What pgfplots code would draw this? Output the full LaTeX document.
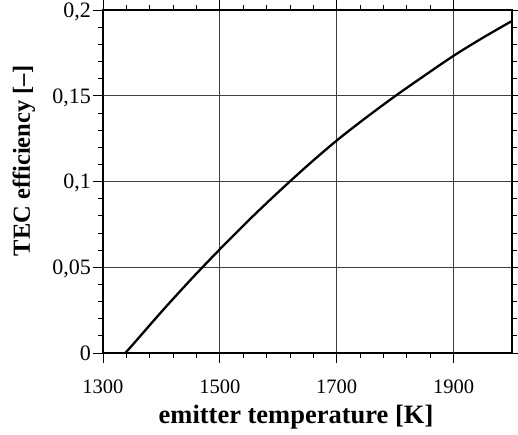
\documentclass[border=0pt]{standalone}
\usepackage{fontspec}
\setmainfont{Liberation Serif}
\usepackage{pgfplots}
\pgfplotsset{compat=1.18}
\begin{document}
\begin{tikzpicture}
\begin{axis}[
  scale only axis,
  width=409pt, height=343pt,
  xmin=1300, xmax=2000, ymin=0, ymax=0.2,
  xtick={1300,1500,1700,1900},
  xticklabels={1300,1500,1700,1900},
  ytick={0,0.05,0.1,0.15,0.2},
  yticklabels={0,{0,05},{0,1},{0,15},{0,2}},
  minor x tick num=4,
  minor y tick num=4,
  tick align=outside,
  major tick length=10pt,
  minor tick length=5pt,
  tick style={black, line width=0.8pt},
  axis line style={line width=2pt},
  xmajorgrids, ymajorgrids,
  major grid style={black!75, line width=0.9pt},
  /pgf/number format/assume math mode=true,
  tick label style={inner sep=0pt},
  xticklabel style={font=\fontsize{20.5}{22}\selectfont, anchor=north, yshift=-17pt},
  yticklabel style={font=\fontsize{22}{24}\selectfont, anchor=base east, xshift=-2pt, yshift=-7.3pt},
  xlabel={emitter temperature [K]},
  ylabel={TEC efficiency [–]},
  xlabel style={font=\fontsize{26.5}{30}\selectfont\bfseries, at={(axis description cs:0.5,0)}, anchor=base, xshift=-11.5pt, yshift=-70pt},
  ylabel style={font=\fontsize{24.5}{28}\selectfont\bfseries, at={(axis description cs:-0.1785,0.56)}, anchor=base},
  clip=true,
]
\addplot[black, line width=2.3pt, smooth] coordinates {
  (1338,0) (1350,0.0045) (1400,0.0240) (1450,0.0427) (1500,0.0605)
  (1550,0.0776) (1600,0.0938) (1650,0.1093) (1700,0.1239) (1750,0.1372)
  (1800,0.1498) (1850,0.1617) (1900,0.1733) (1950,0.1838) (2000,0.1936)
};
\end{axis}
\pgfresetboundingbox
\path (current axis.south west) ++(-103pt,-81pt) rectangle ++(518pt,434pt);
\end{tikzpicture}
\end{document}
